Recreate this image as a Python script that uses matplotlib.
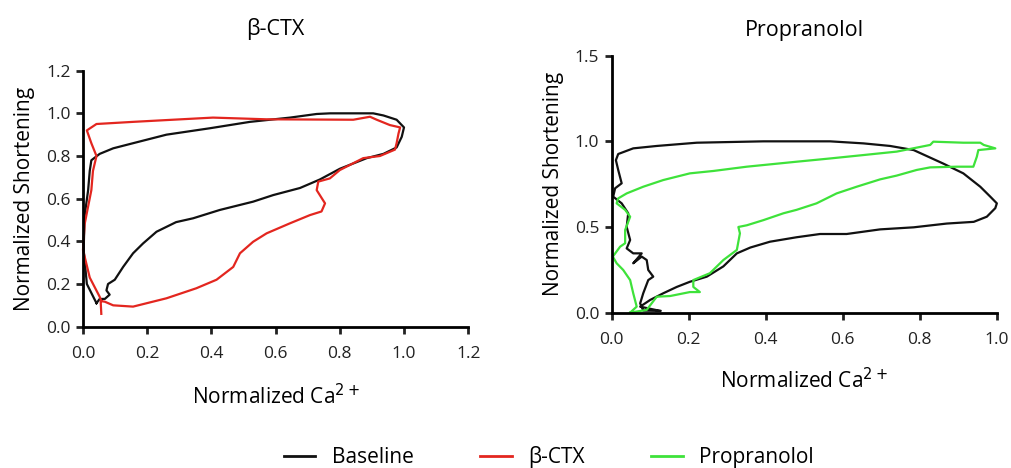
import matplotlib.pyplot as plt

plt.rcParams['font.family'] = ['Open Sans', 'DejaVu Sans']

# baseline loop, left panel (Ca2+, shortening)
base1_x = [0.042, 0.012, 0.002, 0.005, 0.016, 0.021, 0.026, 0.052, 0.094, 0.156, 0.26, 0.395, 0.52, 0.645,
           0.728, 0.77, 0.904, 0.936, 0.977, 1.0, 0.993, 0.977, 0.936, 0.884, 0.8, 0.738, 0.676, 0.593,
           0.53, 0.426, 0.343, 0.29, 0.229, 0.187, 0.156, 0.125, 0.099, 0.078, 0.073, 0.083, 0.068, 0.052, 0.042]
base1_y = [0.11, 0.2, 0.36, 0.52, 0.64, 0.73, 0.78, 0.81, 0.836, 0.86, 0.9, 0.93, 0.96, 0.98,
           0.997, 1.0, 1.0, 0.99, 0.97, 0.934, 0.89, 0.84, 0.81, 0.79, 0.74, 0.69, 0.65, 0.617,
           0.586, 0.547, 0.508, 0.49, 0.445, 0.39, 0.344, 0.28, 0.22, 0.2, 0.17, 0.15, 0.13, 0.13, 0.11]

# beta-CTX loop
ctx_x = [0.057, 0.055, 0.068, 0.094, 0.156, 0.26, 0.353, 0.416, 0.468, 0.489, 0.53, 0.572, 0.644, 0.707,
         0.743, 0.754, 0.728, 0.733, 0.769, 0.8, 0.873, 0.925, 0.972, 0.977, 0.983, 0.988, 0.956, 0.915,
         0.894, 0.842, 0.572, 0.405, 0.28, 0.156, 0.042, 0.012, 0.026, 0.042, 0.031, 0.026, 0.005, 0.0,
         0.021, 0.052, 0.057]
ctx_y = [0.06, 0.12, 0.117, 0.10, 0.094, 0.133, 0.18, 0.22, 0.28, 0.344, 0.398, 0.4375, 0.484, 0.523,
         0.54, 0.578, 0.64, 0.68, 0.695, 0.734, 0.79, 0.80, 0.83, 0.86, 0.906, 0.934, 0.945, 0.97,
         0.984, 0.97, 0.972, 0.98, 0.97, 0.96, 0.95, 0.92, 0.86, 0.8, 0.73, 0.64, 0.48, 0.36,
         0.23, 0.14, 0.12]

# baseline loop, right panel
base2_x = [0.126, 0.074, 0.1, 0.134, 0.169, 0.203, 0.247, 0.29, 0.325, 0.36, 0.411, 0.48, 0.541, 0.61,
           0.697, 0.784, 0.87, 0.94, 0.974, 0.996, 1.0, 0.983, 0.957, 0.913, 0.861, 0.784, 0.723, 0.654,
           0.567, 0.394, 0.221, 0.117, 0.056, 0.017, 0.011, 0.017, 0.026, 0.009, 0.004, 0.026, 0.043,
           0.039, 0.048, 0.039, 0.056, 0.078, 0.056, 0.078, 0.091, 0.095, 0.108, 0.095, 0.082, 0.074,
           0.082, 0.126]
base2_y = [0.01, 0.035, 0.074, 0.113, 0.15, 0.18, 0.21, 0.27, 0.346, 0.38, 0.414, 0.44, 0.459, 0.459,
           0.486, 0.498, 0.52, 0.53, 0.56, 0.61, 0.638, 0.677, 0.735, 0.813, 0.87, 0.949, 0.973, 0.988,
           1.0, 1.0, 0.992, 0.973, 0.959, 0.926, 0.89, 0.833, 0.755, 0.726, 0.677, 0.638, 0.58,
           0.5, 0.424, 0.375, 0.346, 0.346, 0.288, 0.327, 0.307, 0.249, 0.21, 0.19, 0.113, 0.054,
           0.012, 0.01]

# propranolol loop
prop_x = [0.048, 0.091, 0.117, 0.152, 0.203, 0.229, 0.212, 0.212, 0.255, 0.29, 0.325, 0.333, 0.329,
          0.351, 0.394, 0.446, 0.48, 0.532, 0.584, 0.636, 0.697, 0.74, 0.792, 0.827, 0.896, 0.939,
          0.948, 0.952, 0.996, 0.966, 0.957, 0.913, 0.835, 0.827, 0.74, 0.654, 0.567, 0.48, 0.351,
          0.264, 0.203, 0.134, 0.082, 0.039, 0.017, 0.013, 0.035, 0.048, 0.035, 0.035, 0.022, 0.003,
          0.013, 0.03, 0.048, 0.056, 0.065, 0.048]
prop_y = [0.0, 0.016, 0.093, 0.097, 0.12, 0.12, 0.15, 0.19, 0.23, 0.307, 0.366, 0.463, 0.5,
          0.51, 0.54, 0.58, 0.6, 0.638, 0.696, 0.735, 0.778, 0.80, 0.833, 0.848, 0.852, 0.852,
          0.91, 0.949, 0.959, 0.979, 0.992, 0.992, 0.998, 0.979, 0.94, 0.92, 0.9, 0.881, 0.852,
          0.827, 0.813, 0.774, 0.735, 0.696, 0.667, 0.638, 0.6, 0.56, 0.482, 0.405, 0.385, 0.327,
          0.288, 0.249, 0.19, 0.113, 0.035, 0.0]

black = '#111111'
red = '#e3261f'
green = '#3ee23a'

fig = plt.figure(figsize=(10.11, 4.68), dpi=100)
ax1 = fig.add_axes([0.0821, 0.302, 0.381, 0.547])
ax2 = fig.add_axes([0.605, 0.332, 0.381, 0.549])

ax1.plot(base1_x, base1_y, color=black, lw=1.6)
ax1.plot(ctx_x, ctx_y, color=red, lw=1.6)
ax2.plot(base2_x, base2_y, color=black, lw=1.6)
ax2.plot(prop_x, prop_y, color=green, lw=1.6)

ax1.set_xlim(0, 1.2)
ax1.set_ylim(0, 1.2)
ax1.set_xticks([0, 0.2, 0.4, 0.6, 0.8, 1.0, 1.2])
ax1.set_yticks([0, 0.2, 0.4, 0.6, 0.8, 1.0, 1.2])
ax2.set_xlim(0, 1.0)
ax2.set_ylim(0, 1.5)
ax2.set_xticks([0, 0.2, 0.4, 0.6, 0.8, 1.0])
ax2.set_yticks([0, 0.5, 1.0, 1.5])

for ax in (ax1, ax2):
    ax.spines['top'].set_visible(False)
    ax.spines['right'].set_visible(False)
    ax.spines['left'].set_linewidth(2)
    ax.spines['bottom'].set_linewidth(2)
    ax.tick_params(width=2, length=5, labelsize=12.5, colors='#222222')
    ax.tick_params(axis='x', pad=9)
    ax.tick_params(axis='y', pad=4)
    ax.xaxis.set_major_formatter(plt.FormatStrFormatter('%.1f'))
    ax.yaxis.set_major_formatter(plt.FormatStrFormatter('%.1f'))
    ax.set_ylabel('Normalized Shortening', fontsize=15, labelpad=8)
    for s in ax.spines.values():
        s.set_clip_on(False)
    for ln in ax.lines:
        ln.set_clip_on(False)

ax1.set_xlabel('Normalized Ca$^{2+}$', fontsize=15, labelpad=16)
ax2.set_xlabel('Normalized Ca$^{2+}$', fontsize=15, labelpad=14)
ax1.set_title('β-CTX', fontsize=15.5, pad=26)
ax2.set_title('Propranolol', fontsize=15.5, pad=14)

handles = [plt.Line2D([], [], color=black, lw=2),
           plt.Line2D([], [], color=red, lw=2),
           plt.Line2D([], [], color=green, lw=2)]
fig.legend(handles, ['Baseline', 'β-CTX', 'Propranolol'], loc='lower center',
           bbox_to_anchor=(0.543, -0.04), ncol=3, frameon=False, fontsize=15,
           handlelength=1.5, handletextpad=0.8, columnspacing=3.2)

fig.savefig('out.png', dpi=100)
